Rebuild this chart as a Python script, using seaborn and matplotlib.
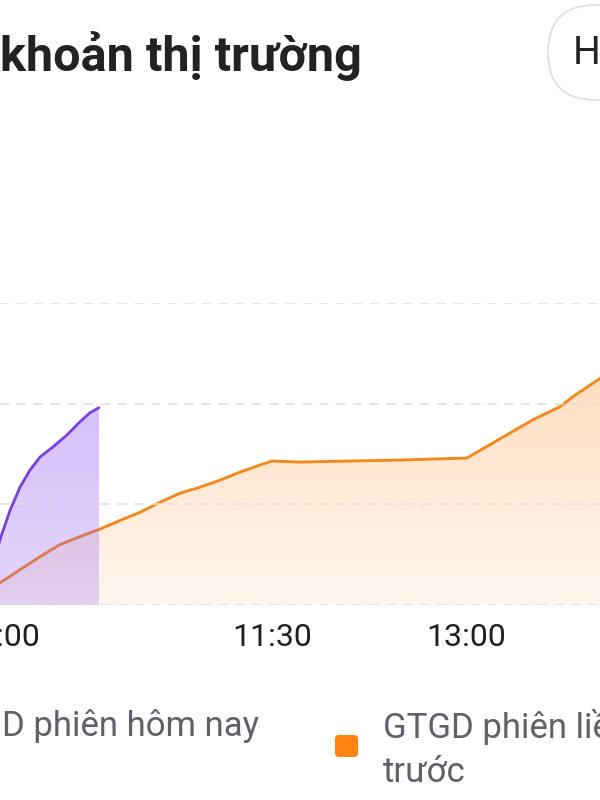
import numpy as np
import pandas as pd
import matplotlib
matplotlib.use("Agg")
import matplotlib.pyplot as plt
import seaborn as sns
from matplotlib.colors import to_rgb
from matplotlib.patches import FancyBboxPatch
from matplotlib.transforms import IdentityTransform

# thời điểm (chỉ số trên trục) và GTGD tích lũy
t_today = [-6, 0, 10, 20, 30, 40, 53, 67, 80, 90, 99]
gtgd_today = [0.40, 0.65, 0.94, 1.17, 1.34, 1.47, 1.57, 1.69, 1.82, 1.91, 1.96]

t_prev = [-6, 0, 20, 40, 60, 80, 99, 120, 140, 160, 180, 200, 220, 240, 260,
          272, 300, 400, 467, 493, 533, 560, 573, 600, 610]
gtgd_prev = [0.18, 0.22, 0.35, 0.48, 0.60, 0.68, 0.75, 0.84, 0.92, 1.02, 1.11,
             1.17, 1.24, 1.32, 1.39, 1.43, 1.42, 1.44, 1.46, 1.61, 1.84, 1.97,
             2.07, 2.25, 2.32]

tick_pos = [0, 272.5, 466, 659.5]
tick_labels = ["10:00", "11:30", "13:00", "14:30"]

title = "Thanh khoản thị trường"
legend_today = "GTGD phiên hôm nay"
legend_prev = ["GTGD phiên liền", "trước"]

ORANGE = "#f5891e"
PURPLE = "#7b3fe0"

df_today = pd.DataFrame({"t": t_today, "gtgd": gtgd_today})
df_prev = pd.DataFrame({"t": t_prev, "gtgd": gtgd_prev})

sns.set_style("white")
plt.rcParams["font.family"] = ["Roboto", "DejaVu Sans"]

W, H = 600, 800
fig = plt.figure(figsize=(6, 8), dpi=100)


def fx(px):
    return px / W


def fy(py):
    return 1 - py / H


ax = fig.add_axes([0, fy(605), 1, (605 - 303) / H])


def grad_fill(ax, x, y, color, a_top, a_bot, ytop, z):
    poly = ax.fill_between(x, y, 0, facecolor="none", edgecolor="none")
    img = np.zeros((200, 1, 4))
    img[..., :3] = to_rgb(color)
    img[..., 3] = np.linspace(a_top, a_bot, 200)[:, None]
    im = ax.imshow(img, extent=[min(x), max(x), 0, ytop], aspect="auto",
                   origin="upper", zorder=z, interpolation="bilinear")
    im.set_clip_path(poly.get_paths()[0], transform=ax.transData)


# phiên trước
grad_fill(ax, t_prev, gtgd_prev, "#ff8a1f", 0.29, 0.07, 2.35, 1)
sns.lineplot(data=df_prev, x="t", y="gtgd", ax=ax, color=ORANGE, linewidth=2.1, zorder=2)
# phiên hôm nay
grad_fill(ax, t_today, gtgd_today, "#9460f0", 0.40, 0.26, 2.0, 3)
sns.lineplot(data=df_today, x="t", y="gtgd", ax=ax, color=PURPLE, linewidth=2.0, zorder=4)

for g in [0, 1, 2, 3]:
    ax.axhline(g, color="#dedede", linewidth=1.1, linestyle=(0, (6, 5)), zorder=5)

sns.despine(ax=ax, left=True, bottom=True)
ax.set_xlabel("")
ax.set_ylabel("")
ax.set_yticks([])
ax.set_xticks(tick_pos, tick_labels)
ax.tick_params(axis="x", length=0, pad=13, labelsize=23, labelcolor="#1f1f1f")
ax.grid(False)
ax.set_xlim(0, 600)
ax.set_ylim(0, 3)
ax.set_aspect("auto")

# tiêu đề
fig.text(fx(362), fy(71), title, ha="right", va="baseline", fontsize=35,
         fontweight="bold", color="#222222")

# nút sàn
btn = FancyBboxPatch((548, H - 100), 260, 95,
                     boxstyle="round,pad=0,rounding_size=47.5",
                     transform=IdentityTransform(), facecolor="white",
                     edgecolor="#dcdce3", linewidth=1.2)
fig.patches.append(btn)
fig.text(fx(573), fy(54), "HOSE", ha="left", va="center", fontsize=28,
         color="#222222")

# chú thích
fig.text(fx(259), fy(736), legend_today, ha="right", va="baseline",
         fontsize=25, color="#5f6068")
sq = FancyBboxPatch((335, H - 757), 23, 22,
                    boxstyle="round,pad=0,rounding_size=4",
                    transform=IdentityTransform(), facecolor="#ff8412",
                    edgecolor="none")
fig.patches.append(sq)
fig.text(fx(383), fy(738), legend_prev[0], ha="left", va="baseline",
         fontsize=25, color="#5f6068")
fig.text(fx(383), fy(782), legend_prev[1], ha="left", va="baseline",
         fontsize=25, color="#5f6068")

fig.savefig("out.png", dpi=100)
